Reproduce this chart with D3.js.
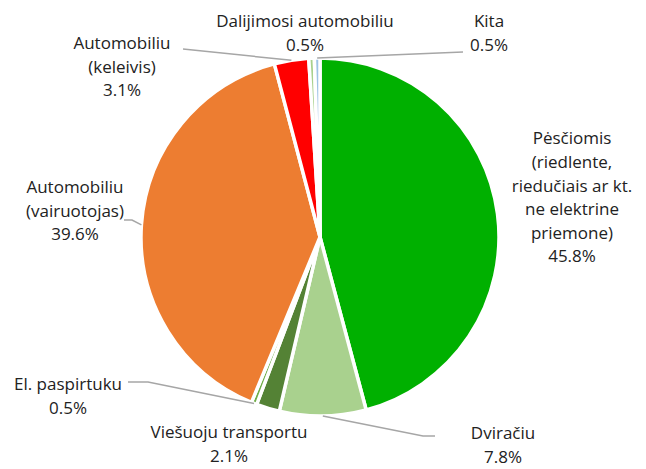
<!DOCTYPE html>
<html>
<head>
<meta charset="utf-8">
<script src="https://cdn.jsdelivr.net/npm/d3@7"></script>
<style>
  html, body { margin: 0; padding: 0; background: #fff; }
  svg text { font-family: "Open Sans", "Noto Sans", sans-serif; fill: #222; }
</style>
</head>
<body>
<div id="chart"></div>
<script>
// Slice names (split into label lines), shares in %, and slice colours,
// in clockwise order starting from 12 o'clock.
const categories = [
  ["Pėsčiomis", "(riedlente,", "riedučiais ar kt.", "ne elektrine", "priemone)"],
  ["Dviračiu"],
  ["Viešuoju transportu"],
  ["El. paspirtuku"],
  ["Automobiliu", "(vairuotojas)"],
  ["Automobiliu", "(keleivis)"],
  ["Dalijimosi automobiliu"],
  ["Kita"]
];
const values = [45.8, 7.8, 2.1, 0.5, 39.6, 3.1, 0.5, 0.5];
const colors = ["#00b000", "#a9d18e", "#548235", "#70ad47", "#ed7d31", "#ff0000", "#a9d18e", "#9dc3e6"];

// Where each label block sits (centre x, first line y) and the label end of its leader line.
const labelPos = [
  { x: 572, y: 138.5, leader: null },
  { x: 503, y: 433.5, leader: [[435, 436], [423, 436]] },
  { x: 229, y: 432.5, leader: null },
  { x: 68,  y: 384,   leader: [[128, 382], [148, 382]] },
  { x: 75,  y: 187,   leader: [[124, 220], [132, 220]] },
  { x: 122, y: 43,    leader: [[183, 49]] },
  { x: 305, y: 21,    leader: null },
  { x: 489, y: 21,    leader: [[463, 52]] }
];

const width = 646, height = 469;
const cx = 320, cy = 237, radius = 179;
const lineHeight = 23.6;
const fontSize = 17;

const svg = d3.select("#chart")
  .append("svg")
    .attr("width", width)
    .attr("height", height);

const g = svg.append("g")
    .attr("transform", `translate(${cx},${cy})`);

const pie = d3.pie()
    .value(d => d)
    .sort(null);

const arcs = pie(values);

const arc = d3.arc()
    .innerRadius(0)
    .outerRadius(radius);

// slices with white borders
g.selectAll("path.slice")
  .data(arcs)
  .join("path")
    .attr("class", "slice")
    .attr("d", arc)
    .attr("fill", (d, i) => colors[i])
    .attr("stroke", "#fff")
    .attr("stroke-width", 3.5)
    .attr("stroke-linejoin", "round");

// leader lines: from the outer middle of the slice to the label
const outerPoint = d => {
  const a = (d.startAngle + d.endAngle) / 2;
  return [cx + radius * Math.sin(a), cy - radius * Math.cos(a)];
};

svg.selectAll("polyline.leader")
  .data(arcs.filter((d, i) => labelPos[i].leader))
  .join("polyline")
    .attr("class", "leader")
    .attr("points", d => labelPos[d.index].leader.concat([outerPoint(d)]).map(p => p.join(",")).join(" "))
    .attr("fill", "none")
    .attr("stroke", "#a6a6a6")
    .attr("stroke-width", 1.5);

// labels: name lines then the percentage
const fmt = v => d3.format(".1f")(v) + "%";

const labels = svg.selectAll("text.label")
  .data(arcs)
  .join("text")
    .attr("class", "label")
    .attr("text-anchor", "middle")
    .style("font-size", fontSize + "px");

labels.each(function(d, i) {
  const lines = categories[i].concat([fmt(values[i])]);
  d3.select(this).selectAll("tspan")
    .data(lines)
    .join("tspan")
      .attr("x", labelPos[i].x)
      .attr("y", (l, j) => labelPos[i].y + j * lineHeight)
      .attr("dy", "0.35em")
      .text(l => l);
});
</script>
</body>
</html>
